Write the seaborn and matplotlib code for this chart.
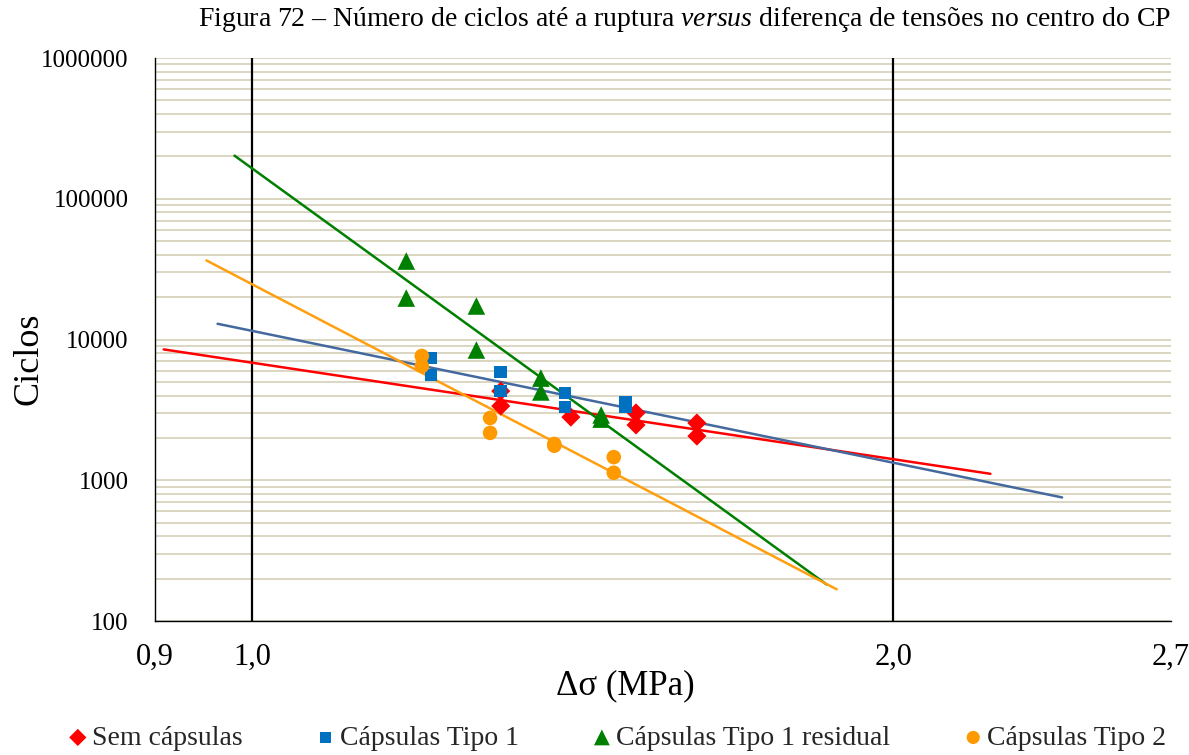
import numpy as np
import pandas as pd
import matplotlib
matplotlib.use('Agg')
from matplotlib import pyplot as plt
from matplotlib.ticker import LogLocator, NullFormatter, NullLocator, FixedLocator, FixedFormatter
import seaborn as sns

# data (delta sigma in MPa, cycles to failure)
sem_x = [1.308, 1.308, 1.411, 1.514, 1.514, 1.617, 1.617]
sem_y = [4300, 3370, 2810, 3010, 2470, 2550, 2060]

tipo1_x = [1.213, 1.213, 1.308, 1.308, 1.402, 1.402, 1.497, 1.497]
tipo1_y = [7390, 5600, 5880, 4300, 4170, 3310, 3600, 3310]

resid_x = [1.181, 1.181, 1.274, 1.274, 1.366, 1.366, 1.458, 1.458]
resid_y = [36100, 19700, 17300, 8420, 5320, 4240, 2910, 2720]

tipo2_x = [1.201, 1.201, 1.293, 1.293, 1.386, 1.386, 1.478, 1.478]
tipo2_y = [7640, 6480, 2770, 2170, 1810, 1760, 1460, 1130]

# extent of each power-law trendline (forecast back/forward)
trend_from = [0.9085, 0.963, 0.9808, 0.9515]
trend_to = [2.221, 2.400, 1.8604, 1.881]

series = ["Sem cápsulas", "Cápsulas Tipo 1", "Cápsulas Tipo 1 residual", "Cápsulas Tipo 2"]
xticks = [0.9, 1.0, 2.0, 2.7]
xtick_labels = ["0,9", "1,0", "2,0", "2,7"]
yticks = [100, 1000, 10000, 100000, 1000000]

mk_colors = ["#FF0000", "#0070C0", "#008000", "#FF9900"]
ln_colors = ["#FF0000", "#43699E", "#008000", "#FF9F10"]
markers = ["D", "s", "^", "o"]
msizes = [95, 85, 160, 110]

frames = []
for name, xs, ys in zip(series, [sem_x, tipo1_x, resid_x, tipo2_x], [sem_y, tipo1_y, resid_y, tipo2_y]):
    frames.append(pd.DataFrame({"ds": xs, "ciclos": ys, "serie": name}))
df = pd.concat(frames, ignore_index=True)

sns.set_theme(style="white")
plt.rcParams["font.family"] = ["Liberation Serif", "DejaVu Serif"]
plt.rcParams["mathtext.fontset"] = "custom"
plt.rcParams["mathtext.rm"] = "Liberation Serif"
plt.rcParams["mathtext.it"] = "Liberation Serif:italic"

fig = plt.figure(figsize=(11.89, 7.55), dpi=100)
ax = fig.add_axes([155/1189, 1-621/755, (1171-155)/1189, (621-58)/755])
ax.set(xscale="log", yscale="log")
ax.set_xlim(0.9, 2.7)
ax.set_ylim(100, 1000000)

ax.yaxis.set_major_locator(FixedLocator(yticks))
ax.yaxis.set_major_formatter(FixedFormatter([str(v) for v in yticks]))
ax.yaxis.set_minor_locator(LogLocator(base=10, subs=range(2, 10)))
ax.yaxis.set_minor_formatter(NullFormatter())
ax.xaxis.set_major_locator(FixedLocator(xticks))
ax.xaxis.set_major_formatter(FixedFormatter(xtick_labels))
ax.xaxis.set_minor_locator(NullLocator())

ax.grid(True, axis="y", which="both", color="#DCD6C2", linewidth=1.4)
ax.grid(False, axis="x")
ax.set_axisbelow(True)
for v in [1.0, 2.0]:
    ax.axvline(v, color="black", linewidth=1.6, zorder=2)

# power-law trendlines, fitted in log-log space like excel does
for i, name in enumerate(series):
    sub = df[df["serie"] == name]
    b, a = np.polyfit(np.log10(sub["ds"]), np.log10(sub["ciclos"]), 1)
    xx = np.geomspace(trend_from[i], trend_to[i], 50)
    line = pd.DataFrame({"ds": xx, "ciclos": 10**a * xx**b})
    sns.lineplot(data=line, x="ds", y="ciclos", ax=ax, color=ln_colors[i], linewidth=1.8, zorder=3, legend=False)

for i, name in enumerate(series):
    sns.scatterplot(data=df[df["serie"] == name], x="ds", y="ciclos", ax=ax, marker=markers[i],
                    color=mk_colors[i], s=msizes[i], edgecolor="none", label=name, zorder=4)

for s in ["top", "right"]:
    ax.spines[s].set_visible(False)
for s in ["left", "bottom"]:
    ax.spines[s].set_color("black")
    ax.spines[s].set_linewidth(1.0)

ax.tick_params(axis="y", which="major", direction="in", length=6, color="#808080", labelsize=18, pad=19)
ax.tick_params(axis="y", which="minor", length=0)
ax.tick_params(axis="x", which="major", length=0, labelsize=22, pad=16)
for lab in ax.get_xticklabels() + ax.get_yticklabels():
    lab.set_color("black")

ax.set_xlabel("Δσ (MPa)", fontsize=25, color="black")
ax.set_ylabel("Ciclos", fontsize=26, color="black")
ax.xaxis.set_label_coords(0.4626, -0.085)
ax.yaxis.set_label_coords(-0.108, 0.465)

fig.text(684/1189, 1-20/755, "Figura 72 – Número de ciclos até a ruptura $\\mathit{versus}$ diferença de tensões no centro do CP",
         ha="center", va="center", fontsize=20, color="black")

handles, labels = ax.get_legend_handles_labels()
ax.legend_.remove()
fig.legend(handles, labels, loc="center", bbox_to_anchor=(615/1189, 1-738/755), ncol=4, frameon=False,
           fontsize=20, handletextpad=0.0, columnspacing=2.5, markerscale=0.9, handlelength=1.0)

fig.savefig("out.png", dpi=100)
